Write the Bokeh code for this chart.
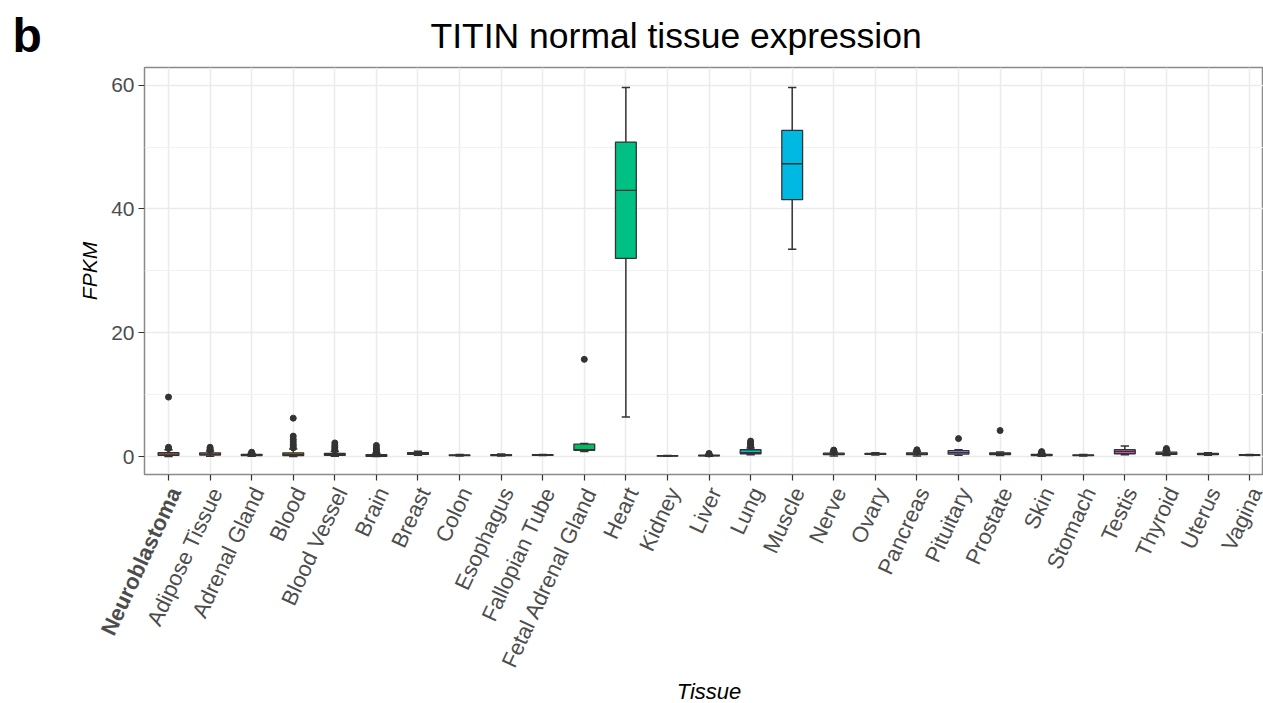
import math
from bokeh.plotting import figure
from bokeh.layouts import column, row
from bokeh.models import Range1d, FixedTicker, ColumnDataSource
from bokeh.transform import dodge
from bokeh.core.properties import value
from bokeh.embed import file_html
from bokeh.resources import INLINE

tissues = ["Neuroblastoma", "Adipose Tissue", "Adrenal Gland", "Blood", "Blood Vessel",
           "Brain", "Breast", "Colon", "Esophagus", "Fallopian Tube", "Fetal Adrenal Gland",
           "Heart", "Kidney", "Liver", "Lung", "Muscle", "Nerve", "Ovary", "Pancreas",
           "Pituitary", "Prostate", "Skin", "Stomach", "Testis", "Thyroid", "Uterus", "Vagina"]
whisker_low = [0.0, 0.05, 0.05, 0.0, 0.05, 0.0, 0.2, 0.1, 0.1, 0.15, 0.8,
               6.4, 0.05, 0.05, 0.3, 33.5, 0.1, 0.25, 0.1, 0.2, 0.15, 0.05, 0.1, 0.3, 0.15, 0.2, 0.15]
q1 = [0.2, 0.25, 0.15, 0.15, 0.2, 0.05, 0.35, 0.15, 0.15, 0.2, 1.0,
      32.0, 0.08, 0.1, 0.45, 41.5, 0.3, 0.35, 0.3, 0.4, 0.3, 0.15, 0.15, 0.45, 0.35, 0.3, 0.2]
median = [0.4, 0.4, 0.25, 0.35, 0.3, 0.15, 0.5, 0.2, 0.22, 0.25, 1.1,
          43.0, 0.1, 0.15, 0.65, 47.3, 0.4, 0.42, 0.42, 0.65, 0.45, 0.25, 0.2, 0.8, 0.5, 0.4, 0.25]
q3 = [0.65, 0.6, 0.35, 0.6, 0.5, 0.3, 0.65, 0.25, 0.3, 0.3, 2.0,
      50.8, 0.13, 0.22, 1.1, 52.7, 0.55, 0.5, 0.6, 0.95, 0.6, 0.35, 0.27, 1.1, 0.7, 0.5, 0.3]
whisker_high = [1.1, 0.9, 0.5, 1.2, 0.8, 0.55, 0.85, 0.35, 0.4, 0.35, 2.1,
                59.6, 0.18, 0.3, 1.4, 59.6, 0.75, 0.6, 0.8, 1.1, 0.75, 0.5, 0.35, 1.7, 0.9, 0.6, 0.35]
outlier_tissue = ["Neuroblastoma", "Neuroblastoma", "Neuroblastoma",
                  "Adipose Tissue", "Adipose Tissue", "Adipose Tissue", "Adipose Tissue",
                  "Adrenal Gland", "Adrenal Gland",
                  "Blood", "Blood", "Blood", "Blood", "Blood", "Blood", "Blood",
                  "Blood Vessel", "Blood Vessel", "Blood Vessel", "Blood Vessel", "Blood Vessel",
                  "Brain", "Brain", "Brain", "Brain", "Brain",
                  "Fetal Adrenal Gland",
                  "Liver", "Liver",
                  "Lung", "Lung", "Lung", "Lung", "Lung",
                  "Nerve", "Nerve", "Nerve",
                  "Pancreas", "Pancreas", "Pancreas",
                  "Pituitary",
                  "Prostate",
                  "Skin", "Skin", "Skin",
                  "Thyroid", "Thyroid", "Thyroid"]
outlier_value = [1.3, 1.5, 9.6,
                 1.0, 1.1, 1.3, 1.5,
                 0.6, 0.7,
                 1.4, 1.7, 2.0, 2.4, 2.8, 3.3, 6.2,
                 1.0, 1.2, 1.5, 1.8, 2.2,
                 0.7, 0.9, 1.1, 1.4, 1.8,
                 15.7,
                 0.4, 0.5,
                 1.6, 1.8, 2.0, 2.2, 2.5,
                 0.85, 0.95, 1.05,
                 0.9, 1.0, 1.1,
                 2.9,
                 4.2,
                 0.6, 0.7, 0.8,
                 1.0, 1.1, 1.3]
y_ticks = [0, 20, 40, 60]
y_minor = [10, 30, 50]
title_text = "TITIN normal tissue expression"
panel_tag = "b"
x_title = "Tissue"
y_title = "FPKM"


def hcl_hex(h, c=100.0, l=65.0):
    hr = math.radians(h)
    u = c * math.cos(hr)
    v = c * math.sin(hr)
    Xn, Yn, Zn = 95.047, 100.0, 108.883
    den = Xn + 15 * Yn + 3 * Zn
    un, vn = 4 * Xn / den, 9 * Yn / den
    Y = Yn * ((l + 16) / 116) ** 3
    up = u / (13 * l) + un
    vp = v / (13 * l) + vn
    X = Y * 9 * up / (4 * vp)
    Z = Y * (12 - 3 * up - 20 * vp) / (4 * vp)
    X, Y, Z = X / 100, Y / 100, Z / 100
    rgb = [3.2404542 * X - 1.5371385 * Y - 0.4985314 * Z,
           -0.9692660 * X + 1.8760108 * Y + 0.0415560 * Z,
           0.0556434 * X - 0.2040259 * Y + 1.0572252 * Z]
    out = []
    for ch in rgb:
        ch = 12.92 * ch if ch <= 0.0031308 else 1.055 * ch ** (1 / 2.4) - 0.055
        out.append(int(round(min(max(ch, 0), 1) * 255)))
    return "#%02x%02x%02x" % tuple(out)


n = len(tissues)
colors = [hcl_hex(15 + 360 * i / n) for i in range(n)]
xs = [i + 1 for i in range(n)]

FONT = "Liberation Sans"
W = 1263
TOP_H = 66
LEFT = 144
FRAME_H = 407
MAIN_TOP = 1
MAIN_H = MAIN_TOP + FRAME_H + 7
BOT_H = 703 - TOP_H - MAIN_H
PX = 41.58                      # pixels per category
x_start = 1 - 24 / PX
x_end = x_start + (W - LEFT) / PX

# ---------------- title strip ----------------
top = figure(width=W, height=TOP_H, output_backend="svg", toolbar_location=None,
             x_axis_type=None, y_axis_type=None,
             x_range=Range1d(0, W), y_range=Range1d(TOP_H, 0),
             min_border=0, outline_line_color=None)
top.text(x=[12], y=[35], text=[panel_tag], text_font=value(FONT),
         text_font_size=value("48px"), text_font_style=value("bold"),
         text_color="black", text_align="left", text_baseline="middle")
top.text(x=[430], y=[35], text=[title_text], text_font=value(FONT),
         text_font_size=value("35.5px"), text_color="black",
         text_align="left", text_baseline="middle")

# ---------------- main plot ----------------
src = ColumnDataSource(dict(x=xs, lo=whisker_low, q1=q1, med=median, q3=q3,
                            hi=whisker_high, color=colors))
out_src = ColumnDataSource(dict(x=[tissues.index(t) + 1 for t in outlier_tissue],
                                y=outlier_value))

p = figure(width=W, height=MAIN_H, output_backend="svg", toolbar_location=None,
           x_range=Range1d(x_start, x_end), y_range=Range1d(-2.9, 62.85),
           min_border_left=LEFT, min_border_top=MAIN_TOP, min_border_bottom=7,
           min_border_right=0)
p.background_fill_color = "white"
p.border_fill_color = "white"
p.outline_line_color = "#8a8a8a"
p.outline_line_width = 1.5

yt = FixedTicker(ticks=y_ticks, minor_ticks=y_minor)
p.yaxis.ticker = yt
p.ygrid.ticker = yt
p.xaxis.ticker = FixedTicker(ticks=xs)
p.xgrid.ticker = FixedTicker(ticks=xs)
for g in (p.xgrid, p.ygrid):
    g.grid_line_color = "#ebebeb"
    g.grid_line_width = 1.5
p.ygrid.minor_grid_line_color = "#f2f2f2"
p.ygrid.minor_grid_line_width = 1.0

for ax in (p.xaxis, p.yaxis):
    ax.axis_line_color = None
    ax.major_tick_line_color = "#333333"
    ax.major_tick_line_width = 1.2
    ax.major_tick_out = 6
    ax.major_tick_in = 0
    ax.minor_tick_line_color = None
    ax.major_label_text_font = FONT
    ax.axis_label_text_font = FONT

p.xaxis.major_label_text_font_size = "0px"
p.xaxis.major_label_text_color = None
p.xaxis.major_label_standoff = 0

p.yaxis.major_label_text_font_size = "21px"
p.yaxis.major_label_text_color = "#4d4d4d"
p.yaxis.major_label_standoff = 4
p.yaxis.axis_label = y_title
p.yaxis.axis_label_text_font_style = "italic"
p.yaxis.axis_label_text_font_size = "21px"
p.yaxis.axis_label_text_color = "black"
p.yaxis.axis_label_standoff = 7

LC = "#333333"
p.segment(x0="x", y0="q3", x1="x", y1="hi", source=src, line_color=LC, line_width=1.5)
p.segment(x0="x", y0="q1", x1="x", y1="lo", source=src, line_color=LC, line_width=1.5)
p.segment(x0=dodge("x", -0.1), y0="hi", x1=dodge("x", 0.1), y1="hi", source=src,
          line_color=LC, line_width=1.5)
p.segment(x0=dodge("x", -0.1), y0="lo", x1=dodge("x", 0.1), y1="lo", source=src,
          line_color=LC, line_width=1.5)
p.vbar(x="x", width=0.5, bottom="q1", top="q3", source=src, fill_color="color",
       line_color=LC, line_width=1.3)
p.segment(x0=dodge("x", -0.25), y0="med", x1=dodge("x", 0.25), y1="med", source=src,
          line_color=LC, line_width=1.3)
p.scatter(x="x", y="y", source=out_src, size=6, fill_color=LC, line_color=LC)

# ---------------- tick-label strip ----------------
bot = figure(width=W, height=BOT_H, output_backend="svg", toolbar_location=None,
             x_axis_type=None, y_axis_type=None,
             x_range=Range1d(x_start - LEFT / PX, x_end), y_range=Range1d(BOT_H, 0),
             min_border=0, outline_line_color=None)
bold_src = ColumnDataSource(dict(x=xs[:1], y=[2.0], t=tissues[:1]))
norm_src = ColumnDataSource(dict(x=xs[1:], y=[2.0] * (n - 1), t=tissues[1:]))
for s, style in ((bold_src, "bold"), (norm_src, "normal")):
    bot.text(x=dodge("x", -0.12), y="y", text="t", source=s, angle=65, angle_units="deg",
             text_align="right", text_baseline="top", text_font=value(FONT),
             text_font_size=value("22px"), text_font_style=value(style),
             text_color="#4d4d4d")
bot.text(x=[(xs[0] + xs[-1]) / 2], y=[BOT_H - 12], text=[x_title], text_font=value(FONT),
         text_font_size=value("22px"), text_font_style=value("italic"),
         text_color="black", text_align="center", text_baseline="middle")

layout = column(top, row(p), bot, spacing=0)
open("out.html", "w").write(file_html(layout, INLINE))
